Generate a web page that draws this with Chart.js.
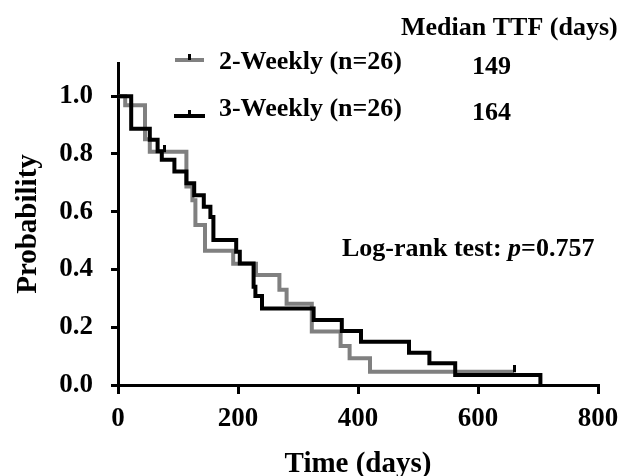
<!DOCTYPE html>
<html>
<head>
<meta charset="utf-8">
<script src="https://cdn.jsdelivr.net/npm/chart.js@4.4.1/dist/chart.umd.min.js"></script>
<style>
  html, body { margin: 0; padding: 0; background: #fff; }
  #wrap { width: 620px; height: 476px; }
</style>
</head>
<body>
<div id="wrap"><canvas id="km" width="620" height="476"></canvas></div>
<script>
// Kaplan-Meier steps: day of drop, probability after the drop
var days2w = [0, 12, 45, 53, 114, 124, 129, 145, 192, 230, 269, 281, 323, 371, 386, 420, 660];
var prob2w = [1.0, 0.969, 0.851, 0.808, 0.687, 0.640, 0.554, 0.465, 0.420, 0.381, 0.330, 0.281, 0.185, 0.135, 0.093, 0.046, 0.046];
var days3w = [0, 22, 53, 66, 73, 94, 114, 127, 143, 154, 159, 197, 203, 226, 229, 240, 326, 373, 405, 485, 519, 562, 704];
var prob3w = [1.0, 0.887, 0.849, 0.809, 0.780, 0.739, 0.699, 0.657, 0.617, 0.582, 0.502, 0.461, 0.421, 0.340, 0.308, 0.265, 0.225, 0.187, 0.150, 0.112, 0.075, 0.035, 0];
// censored marks
var censorDays = [78, 660];
var censorProb = [0.808, 0.046];

var seriesNames = ['2-Weekly (n=26)', '3-Weekly (n=26)'];
var medianTTF = ['149', '164'];
var xTicks = [0, 200, 400, 600, 800];
var yTicks = [0, 0.2, 0.4, 0.6, 0.8, 1.0];

var GRAY = '#808080';
var FONT = '"Liberation Serif", "Times New Roman", serif';

function toPoints(xs, ys) {
	var pts = [];
	for (var i in xs) {
		pts.push({x: xs[i], y: ys[i]});
	}
	return pts;
}

// small vertical tick that sits on top of the line
var tickMark = document.createElement('canvas');
tickMark.width = 3;
tickMark.height = 13;
var tctx = tickMark.getContext('2d');
tctx.fillStyle = '#000';
tctx.fillRect(0, 0, 3, 7);

var annotate = {
	id: 'annotate',
	afterDraw: function(chart) {
		var ctx = chart.ctx;
		ctx.save();
		ctx.fillStyle = '#000';
		ctx.font = 'bold 26px ' + FONT;
		ctx.textBaseline = 'alphabetic';

		ctx.textAlign = 'left';
		ctx.fillText('Median TTF (days)', 401, 35);
		ctx.fillText(medianTTF[0], 472, 74);
		ctx.fillText(medianTTF[1], 472, 120);

		ctx.textAlign = 'right';
		ctx.fillText(seriesNames[0], 402, 69);
		ctx.fillText(seriesNames[1], 402, 116);

		// legend lines
		ctx.lineWidth = 4;
		ctx.strokeStyle = GRAY;
		ctx.beginPath(); ctx.moveTo(175, 60); ctx.lineTo(204, 60); ctx.stroke();
		ctx.strokeStyle = '#000';
		ctx.beginPath(); ctx.moveTo(174, 116); ctx.lineTo(205, 116); ctx.stroke();
		ctx.fillRect(188, 54, 3, 6);
		ctx.fillRect(188, 110, 3, 6);

		// log-rank note
		ctx.textAlign = 'left';
		var x = 342, y = 256;
		var a = 'Log-rank test: ';
		ctx.fillText(a, x, y);
		x += ctx.measureText(a).width;
		ctx.font = 'italic bold 26px ' + FONT;
		ctx.fillText('p', x, y);
		x += ctx.measureText('p').width;
		ctx.font = 'bold 26px ' + FONT;
		ctx.fillText('=0.757', x, y);
		ctx.restore();
	}
};

var tickFont = {family: FONT, size: 27, weight: 'bold'};
var titleFont = {family: FONT, size: 29, weight: 'bold', lineHeight: 0.8};

var kmChart = new Chart(document.getElementById('km'), {
	type: 'line',
	data: {
		datasets: [
			{
				type: 'scatter',
				label: 'censored',
				data: toPoints(censorDays, censorProb),
				pointStyle: tickMark,
				pointRadius: 6,
				showLine: false,
				order: 0
			},
			{
				label: seriesNames[1],
				data: toPoints(days3w, prob3w),
				borderColor: '#000',
				borderWidth: 4,
				stepped: true,
				pointRadius: 0,
				fill: false,
				order: 1
			},
			{
				label: seriesNames[0],
				data: toPoints(days2w, prob2w),
				borderColor: GRAY,
				borderWidth: 4,
				stepped: true,
				pointRadius: 0,
				fill: false,
				order: 2
			}
		]
	},
	options: {
		responsive: false,
		animation: false,
		devicePixelRatio: 1,
		events: [],
		layout: {padding: {left: 0, right: 22, top: 63, bottom: 0}},
		plugins: {
			legend: {display: false},
			tooltip: {enabled: false}
		},
		scales: {
			x: {
				type: 'linear',
				min: 0,
				max: 800,
				afterFit: function(s) { s.height = 91; s.paddingRight = 0; s.paddingLeft = 0; },
				afterBuildTicks: function(s) { s.ticks = xTicks.map(function(v) { return {value: v}; }); },
				ticks: {color: '#000', padding: 9, font: tickFont, maxRotation: 0},
				grid: {drawOnChartArea: false, drawTicks: true, tickLength: 9, color: '#000', lineWidth: 3},
				border: {color: '#000', width: 3},
				title: {display: true, text: 'Time (days)', color: '#000', font: titleFont, padding: {top: 0, bottom: 0}}
			},
			y: {
				min: 0,
				max: 1.115,
				afterFit: function(s) { s.width = 118; s.paddingTop = 0; s.paddingBottom = 0; },
				afterBuildTicks: function(s) { s.ticks = yTicks.map(function(v) { return {value: v}; }); },
				ticks: {color: '#000', padding: 18, font: tickFont,
					callback: function(v) { return v.toFixed(1); }},
				grid: {drawOnChartArea: false, drawTicks: true, tickLength: 7, color: '#000', lineWidth: 3},
				border: {color: '#000', width: 3},
				title: {display: true, text: 'Probability', color: '#000', font: titleFont, padding: {top: 17, bottom: 0}}
			}
		}
	},
	plugins: [annotate]
});
</script>
</body>
</html>
